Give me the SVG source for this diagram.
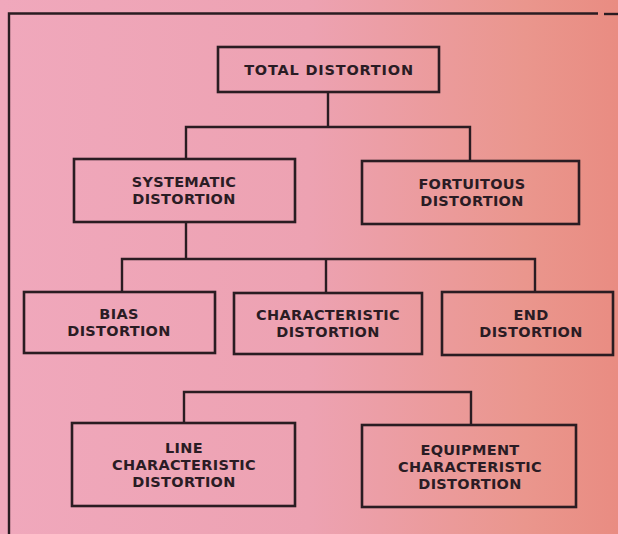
<svg xmlns="http://www.w3.org/2000/svg" width="618" height="534" viewBox="0 0 618 534">
<defs>
<linearGradient id="bg" x1="0" y1="0" x2="1" y2="0">
<stop offset="0" stop-color="#f0a8bc"/>
<stop offset="0.5" stop-color="#eda2b2"/>
<stop offset="0.85" stop-color="#ea968d"/>
<stop offset="1" stop-color="#e98c82"/>
</linearGradient>
</defs>
<style>
.b{fill:none;stroke:#2a1c22;stroke-width:2.6}
.l{fill:none;stroke:#2a1c22;stroke-width:2.4}
text{font-family:"DejaVu Sans","Liberation Sans",sans-serif;font-weight:bold;font-size:14.5px;letter-spacing:0.3px;fill:#2a1c24;text-anchor:middle}
</style>
<rect x="0" y="0" width="618" height="534" fill="url(#bg)"/>
<g id="frame" class="l">
<path d="M9 534V13.5H598"/>
<path d="M604 14H618"/>
</g>
<g id="connectors" class="l">
<path d="M328 92V127"/>
<path d="M186 159V127H470V161"/>
<path d="M186 222V259"/>
<path d="M122 292V259H535V292"/>
<path d="M326 259V293"/>
<path d="M184 423V392H471V425"/>
</g>
<g id="total">
<rect class="b" x="218" y="47" width="221" height="45"/>
<text x="329" y="75" style="letter-spacing:0.8px">TOTAL  DISTORTION</text>
</g>
<g id="systematic">
<rect class="b" x="74" y="159" width="221" height="63"/>
<text x="184" y="187">SYSTEMATIC</text>
<text x="184" y="204">DISTORTION</text>
</g>
<g id="fortuitous">
<rect class="b" x="362" y="161" width="217" height="63"/>
<text x="472" y="189">FORTUITOUS</text>
<text x="472" y="206">DISTORTION</text>
</g>
<g id="bias">
<rect class="b" x="24" y="292" width="191" height="61"/>
<text x="119" y="319">BIAS</text>
<text x="119" y="336">DISTORTION</text>
</g>
<g id="characteristic">
<rect class="b" x="234" y="293" width="188" height="61"/>
<text x="328" y="320">CHARACTERISTIC</text>
<text x="328" y="337">DISTORTION</text>
</g>
<g id="end">
<rect class="b" x="442" y="292" width="171" height="63"/>
<text x="531" y="320">END</text>
<text x="531" y="337">DISTORTION</text>
</g>
<g id="line">
<rect class="b" x="72" y="423" width="223" height="83"/>
<text x="184" y="453">LINE</text>
<text x="184" y="470">CHARACTERISTIC</text>
<text x="184" y="487">DISTORTION</text>
</g>
<g id="equipment">
<rect class="b" x="362" y="425" width="214" height="82"/>
<text x="470" y="455">EQUIPMENT</text>
<text x="470" y="472">CHARACTERISTIC</text>
<text x="470" y="489">DISTORTION</text>
</g>
</svg>
